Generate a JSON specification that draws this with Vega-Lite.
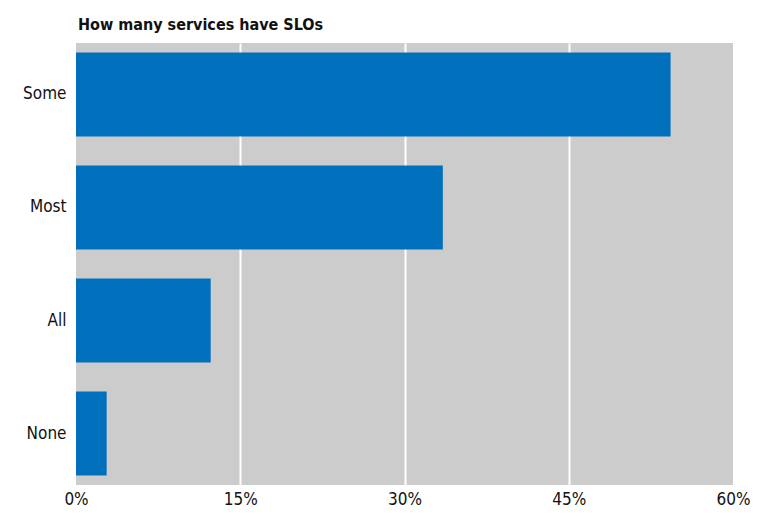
{
  "$schema": "https://vega.github.io/schema/vega-lite/v6.json",
  "width": 657,
  "height": 442,
  "padding": {"left": 76, "top": 43, "right": 40, "bottom": 44},
  "autosize": {"type": "none"},
  "background": "white",
  "title": {
    "text": "How many services have SLOs",
    "anchor": "start",
    "frame": "group",
    "font": "DejaVu Sans Condensed, sans-serif",
    "fontSize": 16,
    "fontWeight": "bold",
    "color": "#111111",
    "offset": 10,
    "dx": 2
  },
  "data": {
    "values": [
      {"category": "Some", "share": 0.543},
      {"category": "Most", "share": 0.335},
      {"category": "All", "share": 0.123},
      {"category": "None", "share": 0.028}
    ]
  },
  "mark": {"type": "bar", "color": "#0070BD"},
  "encoding": {
    "y": {
      "field": "category",
      "type": "nominal",
      "sort": ["Some", "Most", "All", "None"],
      "scale": {"paddingInner": 0.257, "paddingOuter": 0.084},
      "axis": {
        "title": null,
        "ticks": false,
        "domain": false,
        "labelPadding": 10,
        "labelFont": "DejaVu Sans Condensed, sans-serif",
        "labelFontSize": 17,
        "labelColor": "#111111"
      }
    },
    "x": {
      "field": "share",
      "type": "quantitative",
      "scale": {"domain": [0, 0.6], "nice": false},
      "axis": {
        "title": null,
        "values": [0, 0.15, 0.3, 0.45, 0.6],
        "format": ".0%",
        "ticks": false,
        "domain": false,
        "labelPadding": 6,
        "labelFlush": false,
        "labelFont": "DejaVu Sans Condensed, sans-serif",
        "labelFontSize": 17,
        "labelColor": "#111111",
        "grid": true,
        "gridColor": "white",
        "gridWidth": 2,
        "gridOpacity": {"condition": {"test": "datum.value == 0 || datum.value == 0.6", "value": 0}, "value": 1}
      }
    }
  },
  "config": {
    "view": {"fill": "#CCCCCC", "stroke": null}
  }
}
